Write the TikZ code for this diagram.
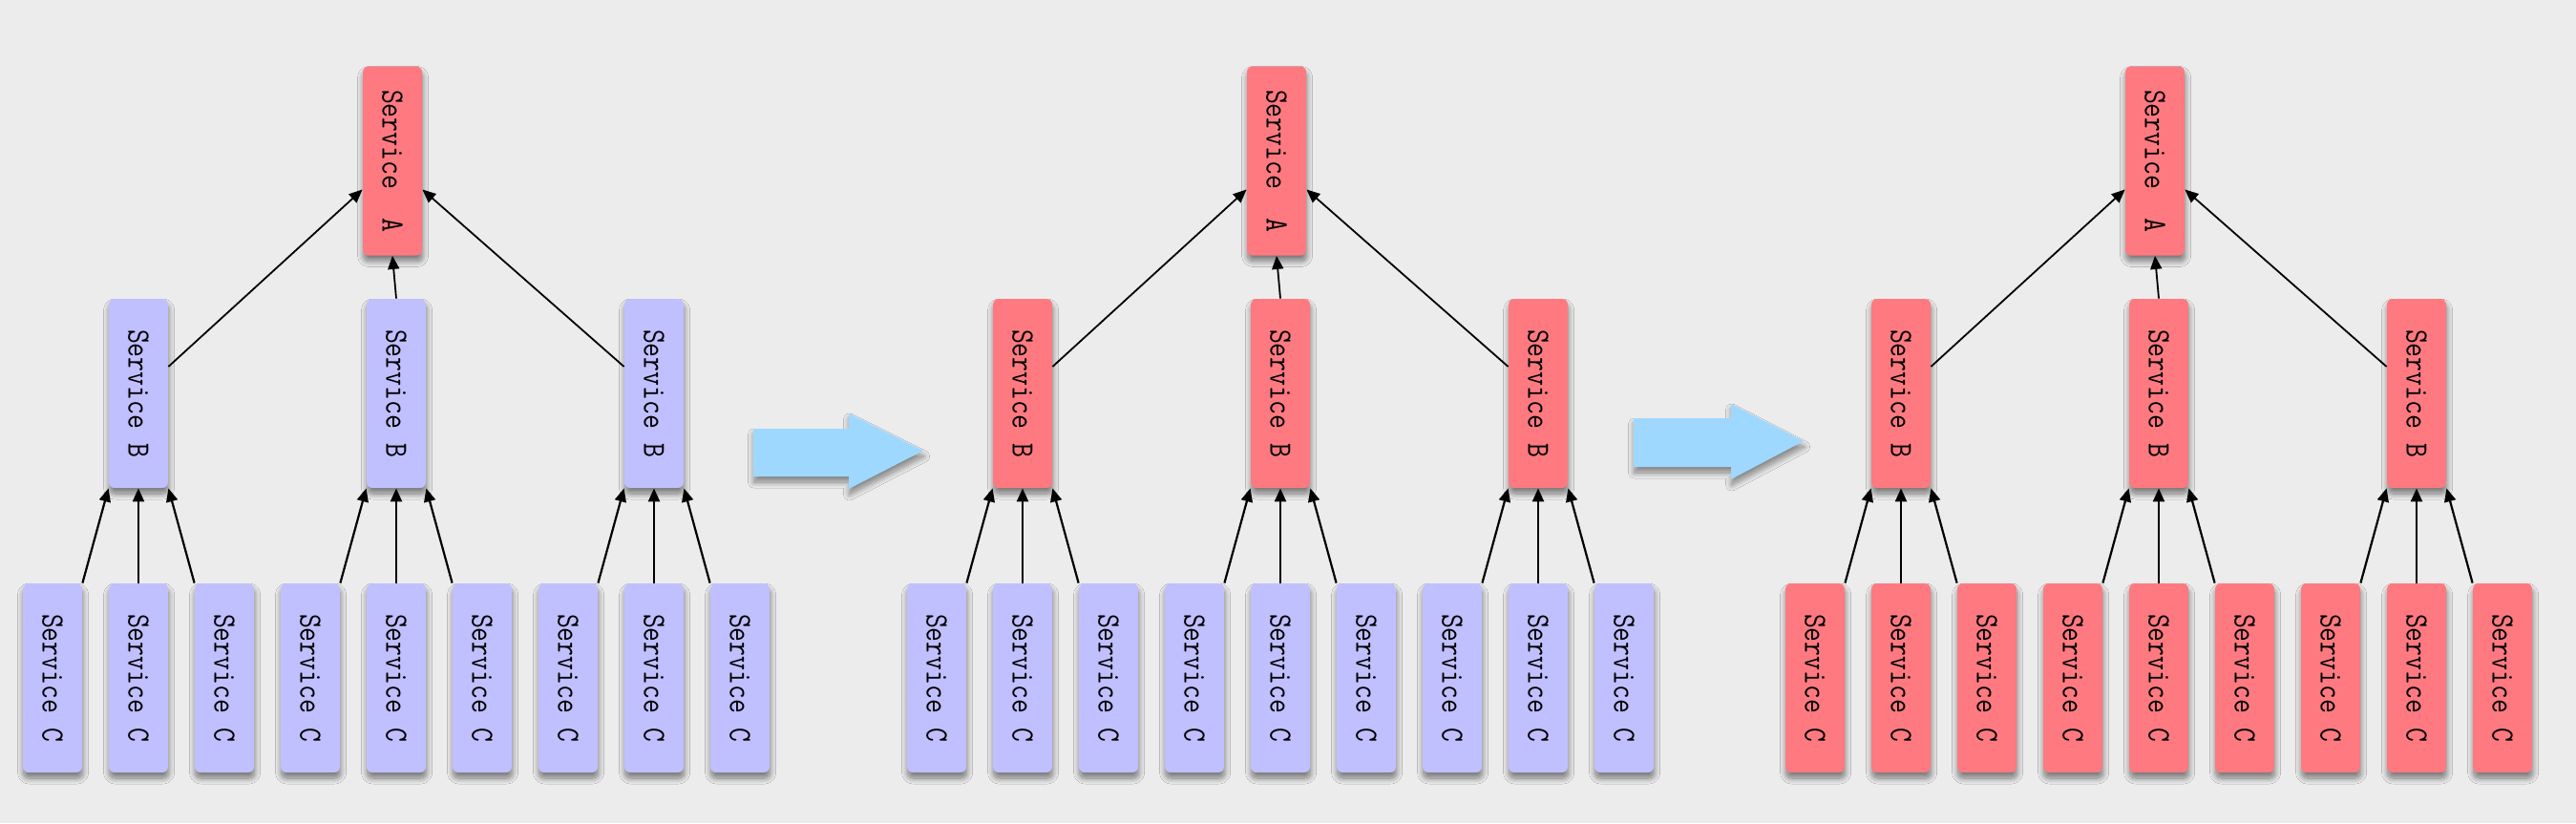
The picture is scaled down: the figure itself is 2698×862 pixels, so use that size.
\documentclass[tikz,border=0pt]{standalone}
\usepackage{graphicx}
\usetikzlibrary{positioning}
\usetikzlibrary{shapes,arrows.meta,shadows.blur}

\definecolor{bggray}{RGB}{236,236,236}
\definecolor{rose}{RGB}{255,122,128}
\definecolor{lilac}{RGB}{192,191,255}
\definecolor{skyblue}{RGB}{159,216,255}

\tikzset{
	svc/.style={fill=#1,rounded corners=3pt,minimum width=31pt,minimum height=99pt,inner sep=0pt,
		blur shadow={shadow xshift=0.3pt,shadow yshift=-3pt,shadow blur radius=3pt,shadow blur steps=12,shadow opacity=50}},
	calls/.style={-{Triangle[length=7pt,width=6pt]},line width=1.1pt},
	callsup/.style={-{Triangle[length=7pt,width=6pt]},line width=0.9pt},
	bigarrow/.style={fill=skyblue,
		blur shadow={shadow xshift=0.3pt,shadow yshift=-3pt,shadow blur radius=3pt,shadow blur steps=12,shadow opacity=45}}
}
\newcommand{\svctext}[1]{\rotatebox{-90}{\scalebox{0.85}[1]{\fontsize{17pt}{17pt}\selectfont\ttfamily #1}}}

\begin{document}
\begin{tikzpicture}[x=0.5pt,y=-0.5pt]
		\fill[bggray] (0,0) rectangle (2698,862);
		
		% three stages side by side
		\foreach \dx/\colB/\colC [count=\p] in {0/lilac/lilac,926/rose/lilac,1846/rose/rose} {
			\node[svc=rose] (a\p) at ({\dx+411},168.5) {\svctext{Service\ \ A}};
			\foreach \j in {1,2,3} {
				\node[svc=\colB] (b\p\j) at ({\dx+145+270*(\j-1)},412) {\svctext{Service B}};
				\foreach \k in {1,2,3}
					\node[svc=\colC] (c\p\j\k) at ({\dx+55+90*(3*(\j-1)+\k-1)},710) {\svctext{Service C}};
				\draw[calls] (c\p\j1.north east) -- (b\p\j.south west);
				\draw[calls] (c\p\j2.north) -- (b\p\j.south);
				\draw[calls] (c\p\j3.north west) -- (b\p\j.south east);
			}
			\draw[callsup] ([yshift=14pt]b\p1.east) -- ([yshift=-15pt]a\p.west);
			\draw[callsup] (b\p2.north) -- (a\p.south);
			\draw[callsup] ([yshift=14pt]b\p3.west) -- ([yshift=-15pt]a\p.east);
		}
		
		% arrows between the stages
		\fill[bigarrow] (789,449) -- (889,449) -- (889,433) -- (967,472) -- (889,512) -- (889,499) -- (789,499) -- cycle;
		\fill[bigarrow] (1711,438) -- (1813,438) -- (1813,423) -- (1889,462) -- (1813,502) -- (1813,489) -- (1711,489) -- cycle;
	\end{tikzpicture}
\end{document}
